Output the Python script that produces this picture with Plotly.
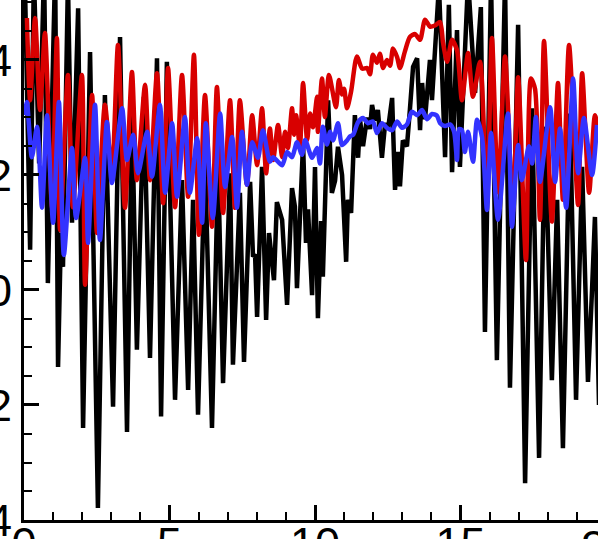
import plotly.graph_objects as go

# ---- data (x in axis units, y in axis units) ----
black_x = [0.03, 0.21, 0.34, 0.52, 0.69, 0.82, 1.07, 1.17, 1.27, 1.34, 1.51, 1.65, 1.86, 2.03, 2.27, 2.54,
           2.78, 3.06, 3.30, 3.54, 3.71, 3.88, 4.12, 4.33, 4.57, 4.71, 4.91, 5.19, 5.43, 5.64, 5.81, 5.98,
           6.22, 6.46, 6.67, 6.84, 7.08, 7.18, 7.42, 7.56, 7.77, 7.87, 7.94, 8.01, 8.18, 8.32, 8.42, 8.52,
           8.59, 8.69, 8.87, 9.04, 9.21, 9.31, 9.38, 9.59, 9.69, 9.76, 9.90, 10.00, 10.10, 10.21, 10.27,
           10.45, 10.58, 10.69, 10.79, 10.93, 11.07, 11.13, 11.24, 11.37, 11.48, 11.55, 11.65, 11.79, 11.89,
           11.96, 12.06, 12.16, 12.30, 12.41, 12.51, 12.65, 12.75, 12.85, 12.92, 13.02, 13.16, 13.26, 13.37,
           13.51, 13.61, 13.68, 13.78, 13.95, 14.02, 14.26, 14.40, 14.47, 14.60, 14.71, 14.88, 14.98, 15.26,
           15.50, 15.70, 15.84, 16.05, 16.25, 16.53, 16.70, 16.98, 17.22, 17.46, 17.70, 17.90, 18.14, 18.32,
           18.52, 18.76, 18.97, 19.18, 19.38, 19.52, 19.62, 19.76]
black_y = [5.4, 0.70, 5.5, 2.2, 5.6, 0.12, 5.6, -1.34, 1.0, 0.4, 5.4, 1.17, 4.9, -2.4, 4.14, -3.79,
           3.39, -2.03, 4.4, -2.47, 3.13, -1.04, 3.36, -1.18, 4.03, -2.2, 3.97, -1.91, 1.91, -1.74, 1.57, -2.17,
           2.31, -2.4, 2.2, -1.62, 2.03, -1.3, 1.69, -1.25, 1.88, 0.58, 0.62, -0.47, 2.14, -0.52, 0.99, 0.58,
           0.17, 1.53, 1.22, -0.26, 1.77, 1.45, 0.03, 2.55, 0.82, 1.4, -0.09, 2.14, -0.49, 1.2, 0.23,
           3.3, 1.69, 1.9, 2.49, 2.0, 0.49, 1.57, 1.34, 3.04, 2.3, 2.95, 2.5, 3.0, 2.8,
           3.22, 2.95, 3.13, 2.3, 2.9, 2.8, 3.34, 1.74, 2.4, 1.8, 2.6, 2.5, 3.13, 3.88,
           4.03, 2.78, 3.6, 2.97, 4.0, 3.3, 5.3, 3.6, 2.31, 4.96, 2.05, 4.52, 2.14, 5.4,
           3.43, 4.92, -0.73, 5.4, -1.22, 5.4, -1.7, 4.61, -3.36, 3.16, -2.92, 2.84, -1.57, 1.57,
           -2.75, 3.07, -1.91, 2.14, -1.6, 0.0, 1.27, -2.0]

red_x = [0.10, 0.21, 0.38, 0.55, 0.72, 0.96, 1.13, 1.24, 1.51, 1.68, 1.99, 2.10, 2.34, 2.51, 2.78, 3.02,
         3.23, 3.47, 3.71, 3.88, 4.16, 4.33, 4.57, 4.78, 4.95, 5.19, 5.43, 5.64, 5.84, 6.01, 6.22, 6.46,
         6.63, 6.84, 7.08, 7.25, 7.42, 7.66, 7.84, 8.01, 8.18, 8.32, 8.45, 8.56, 8.73, 8.87, 8.97, 9.07,
         9.21, 9.28, 9.35, 9.48, 9.59, 9.73, 9.83, 9.93, 10.07, 10.10, 10.24, 10.34, 10.48, 10.72, 10.82,
         10.93, 11.00, 11.10, 11.24, 11.44, 11.62, 11.79, 11.89, 11.99, 12.13, 12.23, 12.34, 12.47, 12.58,
         12.68, 12.82, 12.92, 13.09, 13.26, 13.44, 13.61, 13.78, 13.95, 14.12, 14.30, 14.40, 14.54, 14.71,
         14.88, 15.05, 15.26, 15.43, 15.67, 15.91, 16.08, 16.29, 16.53, 16.80, 16.98, 17.25, 17.42, 17.56,
         17.73, 17.87, 18.14, 18.35, 18.52, 18.73, 19.04, 19.18, 19.42, 19.62, 19.73]
red_y = [4.73, 3.3, 4.73, 3.13, 4.47, 1.44, 4.38, 1.04, 3.74, 1.44, 3.74, 0.09, 3.39, 0.99, 3.22, 2.03,
         4.26, 1.43, 3.79, 1.91, 3.57, 1.91, 3.77, 1.51, 3.86, 1.44, 3.74, 1.62, 4.09, 0.96, 3.39, 1.1,
         3.53, 1.34, 3.3, 1.43, 3.3, 1.83, 3.04, 2.17, 3.16, 2.03, 2.81, 2.26, 2.87, 2.31, 2.75, 2.47,
         3.16, 2.7, 3.04, 2.49, 3.6, 2.61, 3.07, 2.83, 3.36, 2.75, 3.68, 3.01, 3.74, 3.18, 3.65,
         3.4, 3.5, 3.16, 3.45, 4.06, 3.85, 3.86, 3.75, 4.09, 3.95, 4.11, 3.86, 4.0, 3.9,
         4.2, 4.05, 3.86, 4.15, 4.4, 4.45, 4.35, 4.7, 4.58, 4.6, 4.66, 4.3, 3.97, 4.35,
         4.17, 3.3, 4.12, 3.36, 3.97, 1.51, 4.38, 1.7, 4.06, 1.36, 3.7, 0.52, 3.68, 3.5,
         1.22, 4.33, 1.19, 3.6, 1.57, 4.26, 1.48, 3.77, 1.69, 3.04, 2.8]

blue_x = [0.03, 0.10, 0.27, 0.45, 0.62, 0.79, 1.00, 1.20, 1.37, 1.65, 1.79, 2.10, 2.20, 2.44, 2.61, 2.85,
          3.02, 3.37, 3.54, 3.75, 3.92, 4.23, 4.40, 4.67, 4.85, 5.09, 5.26, 5.53, 5.70, 5.95, 6.12, 6.25,
          6.49, 6.74, 6.91, 7.15, 7.32, 7.49, 7.66, 7.84, 8.04, 8.21, 8.45, 8.56, 8.87, 9.04, 9.21, 9.38,
          9.55, 9.66, 9.90, 10.07, 10.17, 10.27, 10.41, 10.52, 10.62, 10.79, 10.93, 11.10, 11.20, 11.31,
          11.48, 11.65, 11.82, 11.99, 12.13, 12.30, 12.47, 12.65, 12.82, 12.99, 13.16, 13.33, 13.51, 13.68,
          13.85, 14.02, 14.19, 14.30, 14.47, 14.64, 14.78, 14.88, 14.95, 15.05, 15.15, 15.26, 15.43, 15.57,
          15.74, 15.91, 16.05, 16.29, 16.63, 16.77, 16.98, 17.11, 17.35, 17.46, 17.59, 17.73, 18.08, 18.25,
          18.42, 18.63, 18.87, 19.04, 19.24, 19.52, 19.69]
blue_y = [3.04, 3.27, 2.31, 2.84, 1.43, 3.04, 1.17, 3.27, 0.61, 2.47, 1.25, 2.3, 0.82, 3.22, 0.87, 2.92,
          1.86, 3.16, 2.26, 2.7, 2.03, 2.75, 1.97, 3.22, 1.69, 2.9, 1.62, 3.01, 1.69, 2.64, 1.17, 2.9,
          1.25, 3.07, 1.79, 2.66, 1.43, 2.75, 1.83, 2.57, 2.3, 2.78, 2.23, 2.31, 2.17, 2.4, 2.31, 2.57,
          2.35, 2.61, 2.3, 2.47, 2.2, 2.84, 2.53, 2.75, 2.6, 2.9, 2.52, 2.6, 2.67, 2.7,
          2.92, 2.99, 2.9, 2.93, 2.73, 2.9, 2.82, 2.78, 2.93, 2.82, 2.88, 3.1, 3.04, 3.13,
          2.97, 3.06, 3.03, 2.9, 2.85, 2.88, 2.75, 2.26, 2.8, 2.78, 2.4, 2.75, 2.23, 2.96,
          2.66, 1.39, 2.73, 1.22, 3.07, 1.1, 2.52, 1.91, 2.5, 2.2, 3.01, 1.88, 3.18, 1.88,
          2.81, 1.43, 3.68, 2.03, 2.99, 2.0, 2.87]

x_tick_vals = [0, 5, 10, 15, 20]
y_tick_vals = [-4, -2, 0, 2, 4]

FONT = "Liberation Sans, Arial, Helvetica, sans-serif"

fig = go.Figure()
fig.add_trace(go.Scatter(x=black_x, y=black_y, mode="lines",
                         line=dict(color="#000000", width=4.5), showlegend=False))
fig.add_trace(go.Scatter(x=red_x, y=red_y, mode="lines",
                         line=dict(color="#d80000", width=4.5, shape="spline", smoothing=0.7),
                         showlegend=False))
fig.add_trace(go.Scatter(x=blue_x, y=blue_y, mode="lines",
                         line=dict(color="#3333ff", width=4.5, shape="spline", smoothing=0.7),
                         showlegend=False))

axis_common = dict(
    showgrid=False, zeroline=False, showline=True, linecolor="black", linewidth=3,
    ticks="inside", ticklen=15, tickwidth=3, tickcolor="black", automargin=False,
    ticklabeloverflow="allow",
    tickfont=dict(family=FONT, size=45, color="black"),
)
fig.update_xaxes(range=[0, 19.725], tickvals=x_tick_vals, ticklabelstandoff=-18,
                 minor=dict(dtick=1, ticks="inside", ticklen=8, tickwidth=1.5, tickcolor="black"),
                 **axis_common)
fig.update_yaxes(range=[-4, 5.043], tickvals=y_tick_vals,
                 minor=dict(dtick=0.5, ticks="inside", ticklen=8, tickwidth=1.5, tickcolor="black"),
                 **axis_common)

# the "20" tick label sits just past the cropped right edge
fig.add_annotation(xref="paper", yref="paper", x=(20 - 0) / 19.725, y=0,
                   text="20", showarrow=False, xanchor="center", yanchor="top",
                   yshift=1, font=dict(family=FONT, size=45, color="black"))

fig.update_layout(
    width=598, height=539,
    margin=dict(l=24, r=0, t=0, b=19, pad=0, autoexpand=False),
    plot_bgcolor="white", paper_bgcolor="white",
)

fig.write_html("out.html", config={"displayModeBar": False},
               post_script="document.body.style.margin='0';document.body.style.overflow='hidden';")
